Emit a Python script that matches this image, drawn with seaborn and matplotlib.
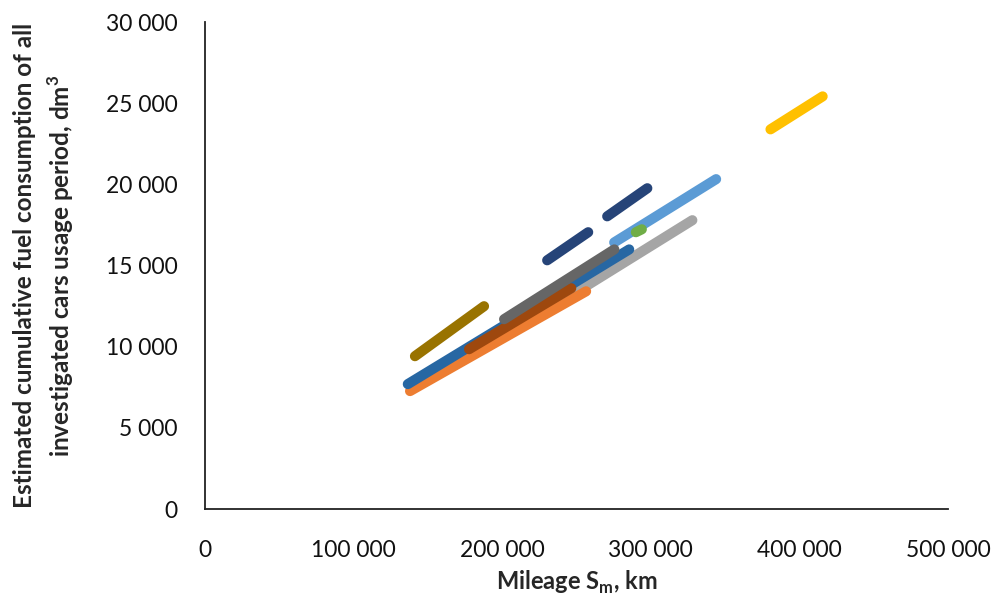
import matplotlib
matplotlib.use("Agg")
import matplotlib.pyplot as plt
import matplotlib.ticker as mticker
import seaborn as sns
import pandas as pd

# --- data (mileage km, cumulative fuel dm3), segment endpoints ---
series_names = ["medium_blue", "light_gray", "light_blue", "orange", "blue", "brown",
                "dark_gray", "green", "olive", "navy_a", "navy_b", "yellow"]
series_colors = ["#4472C4", "#A5A5A5", "#5B9BD5", "#ED7D31", "#2767A3", "#9E480E",
                 "#666666", "#70AD47", "#997300", "#264478", "#264478", "#FFC000"]
mileage = [
    [205000, 248000],   # medium blue
    [203000, 328000],   # light gray
    [275400, 344000],   # light blue
    [138000, 256500],   # orange
    [136500, 285500],   # blue
    [177700, 246500],   # brown
    [201300, 275500],   # dark gray
    [290000, 294000],   # green
    [141300, 187800],   # olive
    [230300, 257900],   # navy part 1
    [270700, 297700],   # navy part 2
    [380600, 415700],   # yellow
]
fuel = [
    [10850, 13200],
    [10700, 17800],
    [16430, 20330],
    [7270, 13420],
    [7700, 16000],
    [9850, 13610],
    [11700, 16000],
    [17060, 17240],
    [9420, 12500],
    [15330, 17060],
    [18040, 19770],
    [23400, 25430],
]

x_ticks = [0, 100000, 200000, 300000, 400000, 500000]
y_ticks = [0, 5000, 10000, 15000, 20000, 25000, 30000]

rows = []
for name, xs, ys in zip(series_names, mileage, fuel):
    for xv, yv in zip(xs, ys):
        rows.append({"series": name, "mileage": xv, "fuel": yv})
df = pd.DataFrame(rows)

sns.set_style("white")
plt.rcParams["font.family"] = ["Lato", "DejaVu Sans"]

fig = plt.figure(figsize=(10.02, 6.01), dpi=100)
ax = fig.add_axes([0.2046, 0.153, 0.7414, 0.810])

for name, col in zip(series_names, series_colors):
    sub = df[df["series"] == name]
    sns.lineplot(data=sub, x="mileage", y="fuel", ax=ax, color=col,
                 linewidth=7.3, solid_capstyle="round", sort=False, legend=False)

ax.set_xlim(0, 500000)
ax.set_ylim(0, 30000)
ax.set_xticks(x_ticks)
ax.set_yticks(y_ticks)
fmt = mticker.FuncFormatter(lambda v, p: f"{int(v):,}".replace(",", " "))
ax.xaxis.set_major_formatter(fmt)
ax.yaxis.set_major_formatter(fmt)
ax.tick_params(axis="both", length=0, labelsize=16.5, colors="#111111")
ax.tick_params(axis="x", pad=22)
ax.tick_params(axis="y", pad=19.5)

for s in ["top", "right"]:
    ax.spines[s].set_visible(False)
for s in ["left", "bottom"]:
    ax.spines[s].set_color("#222222")
    ax.spines[s].set_linewidth(1.3)

ax.set_xlabel("Mileage S$_\\mathregular{m}$, km", fontsize=17, fontweight="bold")
ax.set_ylabel("Estimated cumulative fuel consumption of all\ninvestigated cars usage period, dm$^\\mathregular{3}$",
              fontsize=17.5, fontweight="bold", linespacing=1.4)
ax.xaxis.set_label_coords(0.5, -0.122)
ax.yaxis.set_label_coords(-0.174, 0.5)

fig.savefig("out.png", dpi=100)
